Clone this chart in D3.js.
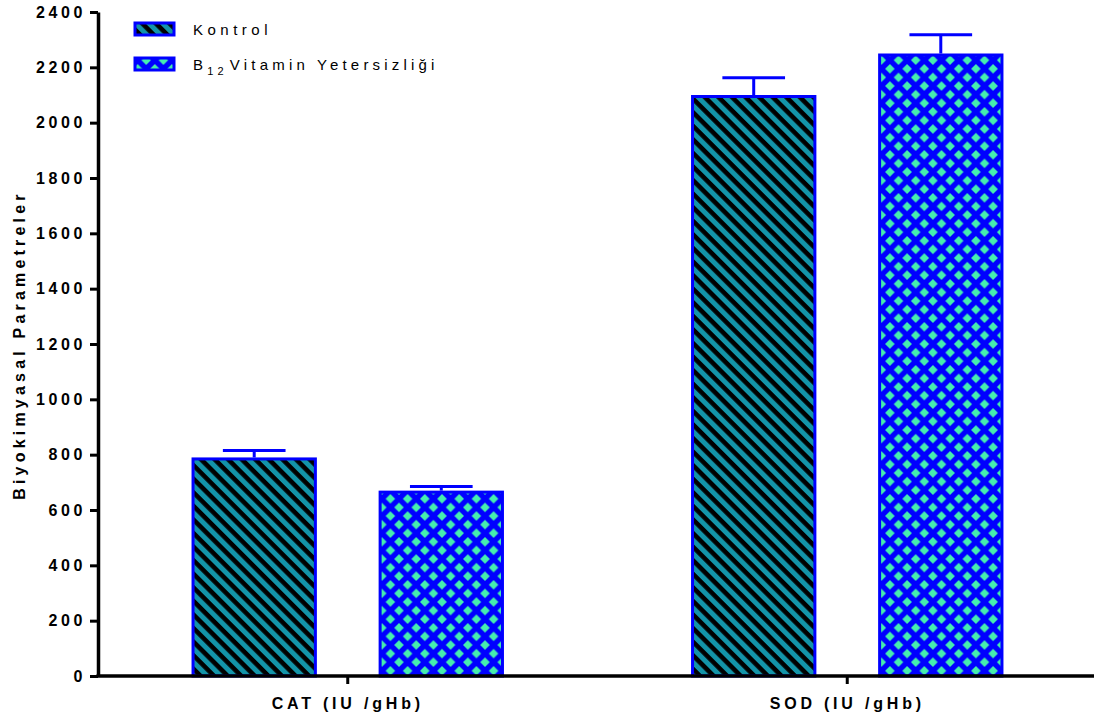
<!DOCTYPE html>
<html>
<head>
<meta charset="utf-8">
<script src="https://cdn.jsdelivr.net/npm/d3@7"></script>
<style>
  html, body { margin: 0; padding: 0; background: #fff; }
  svg { display: block; font-family: "Liberation Sans", Arial, sans-serif; }
</style>
</head>
<body>
<svg id="chart" width="1094" height="722"></svg>
<script>
// Chart data
const categories = ["CAT (IU /gHb)", "SOD (IU /gHb)"];
const seriesNames = ["Kontrol", "B12 Vitamin Yetersizliği"];
const kontrolValues = [790, 2100];
const kontrolErrors = [25, 62];
const b12Values = [670, 2250];
const b12Errors = [15, 68];
const yTicks = [0, 200, 400, 600, 800, 1000, 1200, 1400, 1600, 1800, 2000, 2200, 2400];

const svg = d3.select("#chart");
const axisColor = "#000";
const barStroke = "#0000ff";
const fontFam = "Liberation Sans, Arial, sans-serif";

// Fill patterns: striped (Kontrol) and diamond lattice (B12)
const defs = svg.append("defs");
const stripe = defs.append("pattern")
  .attr("id", "stripes")
  .attr("patternUnits", "userSpaceOnUse")
  .attr("width", 9.6).attr("height", 9.6)
  .attr("patternTransform", "rotate(45)");
stripe.append("rect").attr("width", 9.6).attr("height", 9.6).attr("fill", "#1394a9");
stripe.append("rect").attr("width", 9.6).attr("height", 4.6).attr("fill", "#000");

const dia = defs.append("pattern")
  .attr("id", "diamonds")
  .attr("patternUnits", "userSpaceOnUse")
  .attr("width", 17.2).attr("height", 17.2);
dia.append("rect").attr("width", 17.2).attr("height", 17.2).attr("fill", "#0000ff");
const d = 4.8, s = 17.2;
[[0, 0], [s, 0], [0, s], [s, s], [s / 2, s / 2]].forEach(([cx, cy]) => {
  dia.append("path")
    .attr("d", `M${cx},${cy - d}L${cx + d},${cy}L${cx},${cy + d}L${cx - d},${cy}Z`)
    .attr("fill", "#45eeae");
});
const fills = ["url(#stripes)", "url(#diamonds)"];

// Scales
const y = d3.scaleLinear().domain([0, 2400]).range([676, 12]);
const x0 = d3.scaleBand().domain(categories).range([98, 1097]).padding(0);
const x1 = d3.scaleBand().domain(seriesNames).range([0, x0.bandwidth()])
  .paddingInner(0.33).paddingOuter(0.5);

const rows = categories.map((c, i) => ({
  cat: c,
  bars: [
    { name: seriesNames[0], v: kontrolValues[i], e: kontrolErrors[i], fill: fills[0] },
    { name: seriesNames[1], v: b12Values[i], e: b12Errors[i], fill: fills[1] }
  ]
}));

// Bars with error bars
const groups = svg.append("g").selectAll("g").data(rows).join("g")
  .attr("transform", r => `translate(${x0(r.cat)},0)`);

groups.selectAll("line.err").data(r => r.bars).join("line")
  .attr("class", "err")
  .attr("x1", b => x1(b.name) + x1.bandwidth() / 2)
  .attr("x2", b => x1(b.name) + x1.bandwidth() / 2)
  .attr("y1", b => y(b.v)).attr("y2", b => y(b.v + b.e))
  .attr("stroke", barStroke).attr("stroke-width", 3);
groups.selectAll("line.cap").data(r => r.bars).join("line")
  .attr("class", "cap")
  .attr("x1", b => x1(b.name) + x1.bandwidth() * 0.25)
  .attr("x2", b => x1(b.name) + x1.bandwidth() * 0.75)
  .attr("y1", b => y(b.v + b.e)).attr("y2", b => y(b.v + b.e))
  .attr("stroke", barStroke).attr("stroke-width", 3);

groups.selectAll("rect").data(r => r.bars).join("rect")
  .attr("x", b => x1(b.name) + 1.5)
  .attr("width", x1.bandwidth() - 3)
  .attr("y", b => y(b.v) + 1.5)
  .attr("height", b => y(0) - y(b.v) - 1.5)
  .attr("fill", b => b.fill)
  .attr("stroke", barStroke).attr("stroke-width", 3);

// Y axis
const yAxis = svg.append("g").attr("transform", "translate(98,0)")
  .call(d3.axisLeft(y).tickValues(yTicks).tickFormat(d3.format("d"))
    .tickSize(8).tickPadding(4).tickSizeOuter(0));
yAxis.select(".domain").attr("stroke", axisColor).attr("stroke-width", 3.5);
yAxis.selectAll(".tick line").attr("stroke", axisColor).attr("stroke-width", 3);
yAxis.selectAll(".tick text")
  .attr("fill", "#000").attr("font-size", 16).attr("font-weight", "bold")
  .attr("letter-spacing", "3.6px")
  .attr("font-family", fontFam);

// X axis
const xAxis = svg.append("g").attr("transform", "translate(0,676)")
  .call(d3.axisBottom(x0).tickSize(8).tickPadding(14).tickSizeOuter(0));
xAxis.select(".domain").attr("stroke", axisColor).attr("stroke-width", 3.5)
  .attr("d", "M96.5,0H1094");
xAxis.selectAll(".tick line").attr("stroke", axisColor).attr("stroke-width", 3);
xAxis.selectAll(".tick text")
  .attr("fill", "#000").attr("font-size", 16).attr("font-weight", "bold")
  .attr("letter-spacing", "3.8px")
  .attr("font-family", fontFam);

// Y axis title
svg.append("text")
  .attr("transform", "translate(25,345) rotate(-90)")
  .attr("text-anchor", "middle")
  .attr("font-size", 16).attr("font-weight", "bold")
  .attr("letter-spacing", "4.2px")
  .text("Biyokimyasal Parametreler");

// Legend
const legend = svg.append("g");
const legendRows = [0, 1];
legend.selectAll("rect").data(legendRows).join("rect")
  .attr("x", 135).attr("y", i => 23 + i * 35)
  .attr("width", 39).attr("height", 12)
  .attr("fill", i => fills[i])
  .attr("stroke", barStroke).attr("stroke-width", 3);

legend.append("text")
  .attr("x", 193).attr("y", 35)
  .attr("font-size", 15).attr("letter-spacing", "4.5px")
  .text(seriesNames[0]);

const t2 = legend.append("text")
  .attr("x", 193).attr("y", 70)
  .attr("font-size", 15).attr("letter-spacing", "4.2px");
t2.append("tspan").text("B");
t2.append("tspan").attr("font-size", 11).attr("dy", 5).text("12");
t2.append("tspan").attr("dy", -5).attr("dx", 2).text("Vitamin Yetersizliği");
</script>
</body>
</html>
